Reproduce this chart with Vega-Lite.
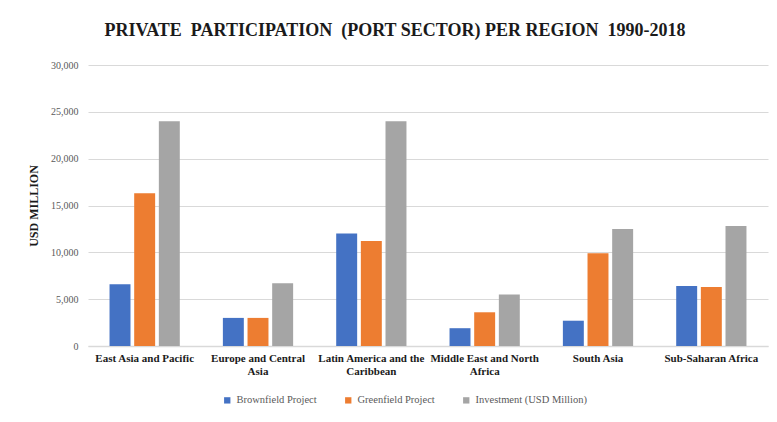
{
  "$schema": "https://vega.github.io/schema/vega-lite/v6.json",
  "width": 680,
  "height": 281,
  "autosize": {"type": "none"},
  "padding": {"left": 88, "top": 65, "right": 9, "bottom": 76},
  "background": "white",
  "title": {
    "text": "PRIVATE\u00a0\u00a0PARTICIPATION\u00a0\u00a0(PORT SECTOR) PER REGION\u00a0\u00a01990-2018",
    "font": "Liberation Serif",
    "fontSize": 18,
    "fontWeight": "bold",
    "color": "#1a1a1a",
    "anchor": "middle",
    "dx": -33,
    "offset": 20
  },
  "data": {
    "values": [
      {"region": "East Asia and Pacific", "series": "Brownfield Project", "value": 6600},
      {"region": "East Asia and Pacific", "series": "Greenfield Project", "value": 16300},
      {"region": "East Asia and Pacific", "series": "Investment (USD Million)", "value": 24000},
      {"region": "Europe and Central Asia", "series": "Brownfield Project", "value": 3000},
      {"region": "Europe and Central Asia", "series": "Greenfield Project", "value": 3000},
      {"region": "Europe and Central Asia", "series": "Investment (USD Million)", "value": 6700},
      {"region": "Latin America and the Caribbean", "series": "Brownfield Project", "value": 12000},
      {"region": "Latin America and the Caribbean", "series": "Greenfield Project", "value": 11200},
      {"region": "Latin America and the Caribbean", "series": "Investment (USD Million)", "value": 24000},
      {"region": "Middle East and North Africa", "series": "Brownfield Project", "value": 1900},
      {"region": "Middle East and North Africa", "series": "Greenfield Project", "value": 3600},
      {"region": "Middle East and North Africa", "series": "Investment (USD Million)", "value": 5500},
      {"region": "South Asia", "series": "Brownfield Project", "value": 2700},
      {"region": "South Asia", "series": "Greenfield Project", "value": 9900},
      {"region": "South Asia", "series": "Investment (USD Million)", "value": 12500},
      {"region": "Sub-Saharan Africa", "series": "Brownfield Project", "value": 6400},
      {"region": "Sub-Saharan Africa", "series": "Greenfield Project", "value": 6300},
      {"region": "Sub-Saharan Africa", "series": "Investment (USD Million)", "value": 12800}
    ]
  },
  "mark": {"type": "bar"},
  "encoding": {
    "x": {
      "field": "region",
      "type": "nominal",
      "sort": null,
      "scale": {"paddingInner": 0.38, "paddingOuter": 0.19},
      "axis": {
        "title": null,
        "labelAngle": 0,
        "labelFont": "Liberation Serif",
        "labelFontWeight": "bold",
        "labelFontSize": 11,
        "labelColor": "#1a1a1a",
        "labelPadding": 6,
        "labelLimit": 200,
        "labelExpr": "datum.value == 'Europe and Central Asia' ? ['Europe and Central', 'Asia'] : datum.value == 'Latin America and the Caribbean' ? ['Latin America and the', 'Caribbean'] : datum.value == 'Middle East and North Africa' ? ['Middle East and North', 'Africa'] : datum.value",
        "ticks": false,
        "domainColor": "#d9d9d9",
        "domainWidth": 1.5,
        "grid": false
      }
    },
    "xOffset": {"field": "series", "type": "nominal", "scale": {"paddingInner": 0.15}},
    "y": {
      "field": "value",
      "type": "quantitative",
      "scale": {"domain": [0, 30000]},
      "axis": {
        "title": "USD MILLION",
        "titleFont": "Liberation Serif",
        "titleFontSize": 12,
        "titleFontWeight": "bold",
        "titleColor": "#1a1a1a",
        "titlePadding": 10,
        "values": [0, 5000, 10000, 15000, 20000, 25000, 30000],
        "format": ",.0f",
        "labelFont": "Liberation Serif",
        "labelFontSize": 10,
        "labelColor": "#595959",
        "labelPadding": 10,
        "ticks": false,
        "domain": false,
        "gridColor": "#d9d9d9"
      }
    },
    "color": {
      "field": "series",
      "type": "nominal",
      "scale": {
        "domain": ["Brownfield Project", "Greenfield Project", "Investment (USD Million)"],
        "range": ["#4472c4", "#ed7d31", "#a5a5a5"]
      },
      "legend": {
        "orient": "none",
        "legendX": 134,
        "legendY": 330,
        "direction": "horizontal",
        "title": null,
        "symbolType": "square",
        "symbolSize": 40,
        "labelFont": "Liberation Serif",
        "labelFontSize": 10.5,
        "labelColor": "#595959",
        "columnPadding": 26
      }
    }
  },
  "config": {
    "view": {"stroke": null}
  }
}
